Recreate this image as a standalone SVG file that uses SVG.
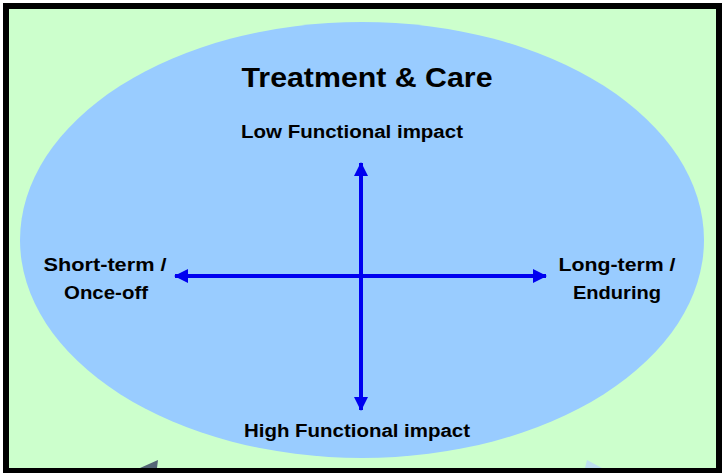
<svg xmlns="http://www.w3.org/2000/svg" width="722" height="473" viewBox="0 0 722 473">
<defs>
<style>
.lbl{font-family:"Liberation Sans",Arial,sans-serif;font-weight:bold;font-size:18px;fill:#000;text-anchor:middle}
.title{font-family:"Liberation Sans",Arial,sans-serif;font-weight:bold;font-size:27px;fill:#000;text-anchor:middle}
.ax{stroke:#0000f0;stroke-width:4;fill:none}
</style>
<marker id="ah" markerWidth="14" markerHeight="14" refX="13" refY="7" orient="auto" markerUnits="userSpaceOnUse">
<path d="M0,0 L14,7 L0,14 Z" fill="#0000f0"/>
</marker>
</defs>
<rect x="0" y="0" width="722" height="473" fill="#fff"/>
<rect x="3" y="3" width="719" height="470" fill="#000"/>
<rect x="9" y="9" width="707" height="459" fill="#ccffcc"/>
<g id="ellipse">
<ellipse cx="362" cy="240" rx="342" ry="218" fill="#99ccff"/>
</g>
<polygon points="140,468 158,460 157,468" fill="#556677"/>
<polygon points="585,468 587,460 602,468" fill="#bfe0f0"/>
<g id="connectors">
<line class="ax" x1="361" y1="276" x2="361" y2="163" marker-end="url(#ah)"/>
<line class="ax" x1="361" y1="276" x2="361" y2="410" marker-end="url(#ah)"/>
<line class="ax" x1="361" y1="276" x2="175" y2="276" marker-end="url(#ah)"/>
<line class="ax" x1="361" y1="276" x2="546" y2="276" marker-end="url(#ah)"/>
</g>
<g id="title"><text class="title" x="367" y="87" textLength="251" lengthAdjust="spacingAndGlyphs">Treatment &amp; Care</text></g>
<g id="top"><text class="lbl" x="352" y="138" textLength="222" lengthAdjust="spacingAndGlyphs">Low Functional impact</text></g>
<g id="bottom"><text class="lbl" x="357" y="437" textLength="226" lengthAdjust="spacingAndGlyphs">High Functional impact</text></g>
<g id="left"><text class="lbl" x="105" y="271" textLength="123" lengthAdjust="spacingAndGlyphs">Short-term /</text><text class="lbl" x="106" y="299" textLength="84" lengthAdjust="spacingAndGlyphs">Once-off</text></g>
<g id="right"><text class="lbl" x="617" y="271" textLength="117" lengthAdjust="spacingAndGlyphs">Long-term /</text><text class="lbl" x="617" y="299" textLength="88" lengthAdjust="spacingAndGlyphs">Enduring</text></g>
</svg>
